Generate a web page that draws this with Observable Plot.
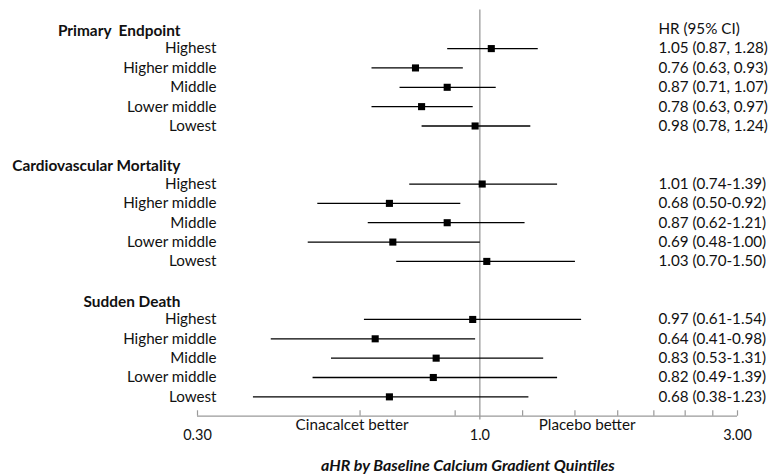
<!DOCTYPE html>
<html>
<head>
<meta charset="utf-8">
<script src="https://cdn.jsdelivr.net/npm/d3@7"></script>
<script src="https://cdn.jsdelivr.net/npm/@observablehq/plot@0.6"></script>
<style>
  html, body { margin: 0; padding: 0; background: #fff; }
  svg { display: block; }
</style>
</head>
<body>
<div id="chart"></div>
<script>
const groups = ["Primary  Endpoint", "Cardiovascular Mortality", "Sudden Death"];
const quintiles = ["Highest", "Higher middle", "Middle", "Lower middle", "Lowest"];

const hrPrimary = [1.05, 0.76, 0.87, 0.78, 0.98];
const loPrimary = [0.87, 0.63, 0.71, 0.63, 0.78];
const hiPrimary = [1.28, 0.93, 1.07, 0.97, 1.24];

const hrCV = [1.01, 0.68, 0.87, 0.69, 1.03];
const loCV = [0.74, 0.50, 0.62, 0.48, 0.70];
const hiCV = [1.39, 0.92, 1.21, 1.00, 1.50];

const hrSD = [0.97, 0.64, 0.83, 0.82, 0.68];
const loSD = [0.61, 0.41, 0.53, 0.49, 0.38];
const hiSD = [1.54, 0.98, 1.31, 1.39, 1.23];

const ciSeparators = [", ", "-", "-"];
const columnHeader = "HR (95% CI)";
const tickValues = [0.3, 0.6, 0.9, 1.2, 1.5, 1.8, 2.1, 2.4, 2.7, 3.0];
const tickLabels = [{x: 0.3, t: "0.30"}, {x: 1, t: "1.0"}, {x: 3, t: "3.00"}];
const sideLabels = [{x: 0.58, t: "Cinacalcet better"}, {x: 1.58, t: "Placebo better"}];
const xTitle = "aHR by Baseline Calcium Gradient Quintiles";

const series = [[hrPrimary, loPrimary, hiPrimary], [hrCV, loCV, hiCV], [hrSD, loSD, hiSD]];
const rows = [];
const headers = [];
groups.forEach((g, gi) => {
  headers.push({row: gi * 7, label: g});
  quintiles.forEach((q, qi) => {
    const [hr, lo, hi] = series[gi];
    rows.push({
      row: gi * 7 + 1 + qi,
      label: q,
      hr: hr[qi], lo: lo[qi], hi: hi[qi],
      text: `${hr[qi].toFixed(2)} (${lo[qi].toFixed(2)}${ciSeparators[gi]}${hi[qi].toFixed(2)})`
    });
  });
});

const font = "Lato, 'Open Sans', sans-serif";
const AXIS_ROW = 20;

const chart = Plot.plot({
  width: 771,
  height: 475,
  margin: 0,
  style: {fontFamily: font, background: "#fff", color: "#111"},
  x: {type: "log", domain: [0.3, 3], range: [197, 737], axis: null},
  y: {type: "linear", domain: [-1, AXIS_ROW], range: [9.4, 415.7], axis: null},
  marks: [
    // reference line at 1
    Plot.ruleX([1], {y1: -1, y2: AXIS_ROW + 0.2, stroke: "#9a9a9a", strokeWidth: 1.3}),
    // axis line & ticks
    Plot.ruleY([AXIS_ROW], {x1: 0.3, x2: 3, stroke: "#9a9a9a", strokeWidth: 1.2}),
    Plot.ruleX(tickValues, {y1: AXIS_ROW, y2: AXIS_ROW - 0.28, stroke: "#9a9a9a", strokeWidth: 1.2}),
    Plot.text(tickLabels, {x: "x", y: AXIS_ROW, text: "t", dy: 19, fontSize: 14.5, fill: "#111"}),
    Plot.text(sideLabels, {x: "x", y: AXIS_ROW, text: "t", dy: 9, fontSize: 15.2, fill: "#111"}),
    // CI lines and points
    Plot.link(rows, {x1: "lo", x2: "hi", y1: "row", y2: "row", stroke: "#000", strokeWidth: 1.3}),
    Plot.dot(rows, {x: "hr", y: "row", symbol: "square", r: 4, fill: "#000", stroke: null}),
    // row labels
    Plot.text(rows, {x: 0.3, y: "row", text: "label", dx: 19, textAnchor: "end", fontSize: 15.2, fill: "#111"}),
    Plot.text(headers, {x: 0.3, y: "row", text: "label", dx: -17, dy: 1.5, textAnchor: "end", fontSize: 15.4, fontWeight: "bold", fill: "#111"}),
    // HR text
    Plot.text(rows, {x: 3, y: "row", text: "text", dx: -79, textAnchor: "start", fontSize: 15.2, fill: "#111"}),
    Plot.text([columnHeader], {x: 3, y: 0, text: d => d, dx: -79, textAnchor: "start", fontSize: 15.2, fill: "#111"}),
    // x title
    Plot.text([xTitle], {x: 0.95, y: 22.55, text: d => d, fontSize: 16, fontWeight: "bold", fontStyle: "italic", fill: "#111"})
  ]
});
document.getElementById("chart").appendChild(chart);
</script>
</body>
</html>
